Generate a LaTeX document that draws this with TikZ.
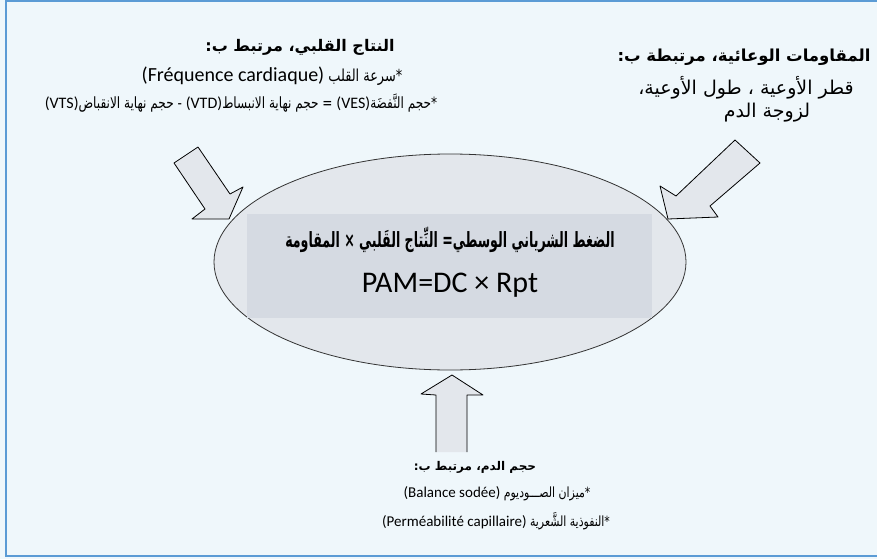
\documentclass[tikz,border=0pt]{standalone}
\usepackage{fontspec}
\setmainfont{Carlito}
\newfontfamily\arabicfont[Script=Arabic]{DejaVu Sans}
\newfontfamily\arabicnarrow[Script=Arabic,FakeStretch=0.78]{DejaVu Sans}
\TeXXeTstate=1
\usetikzlibrary{positioning,shapes.geometric}

\definecolor{bgblue}{HTML}{EFF7FB}
\definecolor{frameblue}{HTML}{5B9BD5}
\definecolor{ovalgray}{HTML}{E3E7EC}
\definecolor{boxgray}{HTML}{D5DAE2}

\newcommand{\rtl}[1]{\beginR #1\endR}
% latin run inside arabic line: size, text
\newcommand{\lat}[2]{\beginL{\normalfont\fontsize{#1}{#1}\selectfont #2}\endL}

\begin{document}
\begin{tikzpicture}[x=1pt,y=-1pt,
        txt/.style={inner sep=0pt,font=\arabicfont\fontsize{16}{19}\selectfont},
        bigarrow/.style={fill=ovalgray,draw=black,line width=0.8pt,line join=round}]
        %%%% Frame =====================================
        \useasboundingbox[fill=bgblue] (0,0) rectangle (877,559);
        \draw[frameblue,line width=2.5pt] (877,1) -- (6,1) -- (6,556) -- (877,556);

        %%%% Oval ======================================
        \node[ellipse,draw=black!80,line width=0.8pt,fill=ovalgray,
              minimum width=472pt,minimum height=216pt] (oval) at (450,262) {};
        \node[fill=boxgray,minimum width=405pt,minimum height=104pt,inner sep=0pt] (box) at (449,266) {};
        \node[txt,font=\arabicfont\bfseries\fontsize{21}{24}\selectfont] (pamar) at (450,240)
            {\scalebox{0.6}[1]{\rtl{الضغط الشرياني الوسطي\kern0pt= النِّتاج القَلبي × المقاومة}}};
        \node[txt,font=\normalfont\fontsize{30}{34}\selectfont] (pam) at (450,285) {PAM=DC × Rpt};

        %%%% Cardiac output ============================
        \node[txt,font=\arabicfont\bfseries\fontsize{16}{19}\selectfont] (co1) at (300,47)
            {\rtl{النتاج القلبي\kern0pt، مرتبط ب\kern0pt:}};
        \node[txt,font=\arabicnarrow\fontsize{16.5}{19}\selectfont] (co2) at (272,76)
            {\rtl{*\kern0pt سرعة القلب \lat{20}{(Fréquence cardiaque)}}};
        \node[txt,font=\arabicnarrow\fontsize{15.5}{18}\selectfont] (co3) at (241,103)
            {\rtl{*\kern0pt حجم النَّفضَة\lat{16}{(VES)} = حجم نهاية الانبساط\lat{16}{(VTD)} - حجم نهاية الانقباض\lat{16}{(VTS)}}};

        %%%% Resistance ================================
        \node[txt,font=\arabicfont\bfseries\fontsize{16.5}{19}\selectfont] (rv1) at (744,57)
            {\rtl{المقاومات الوعائية\kern0pt، مرتبطة ب\kern0pt:}};
        \node[txt,font=\arabicfont\fontsize{19}{22}\selectfont] (rv2) at (746,88)
            {\rtl{قطر الأوعية ، طول الأوعية\kern0pt،}};
        \node[txt,font=\arabicfont\fontsize{19}{22}\selectfont] (rv3) at (767,113)
            {\rtl{لزوجة الدم}};

        %%%% Blood volume ==============================
        \node[txt,font=\arabicfont\bfseries\fontsize{12}{15}\selectfont] (bv1) at (475,467)
            {\rtl{حجم الدم\kern0pt، مرتبط ب\kern0pt:}};
        \node[txt,font=\arabicnarrow\fontsize{14}{17}\selectfont] (bv2) at (497,494)
            {\rtl{*\kern0pt ميزان الصـــوديوم \lat{15}{(Balance sodée)}}};
        \node[txt,font=\arabicnarrow\fontsize{14}{17}\selectfont] (bv3) at (496,521)
            {\rtl{*\kern0pt النفوذية الشَّعرية \lat{15}{(Perméabilité capillaire)}}};

        %%%% Block arrows ==============================
        \filldraw[bigarrow] (198,147) -- (230,194) -- (243,187) -- (229,219) -- (192,219)
            -- (205,209) -- (174,163) -- cycle;
        \filldraw[bigarrow] (735,140) -- (760,163) -- (710,206) -- (718,217) -- (668,219)
            -- (660,186) -- (676,196) -- cycle;
        \fill[ovalgray] (452,375) -- (483,395) -- (467,395) -- (467,452) -- (436,452)
            -- (436,395) -- (421,394) -- cycle;
        \draw[bigarrow,fill=none] (436,452) -- (436,395) -- (421,394) -- (452,375)
            -- (483,395) -- (467,395) -- (467,452);
    \end{tikzpicture}
\end{document}
